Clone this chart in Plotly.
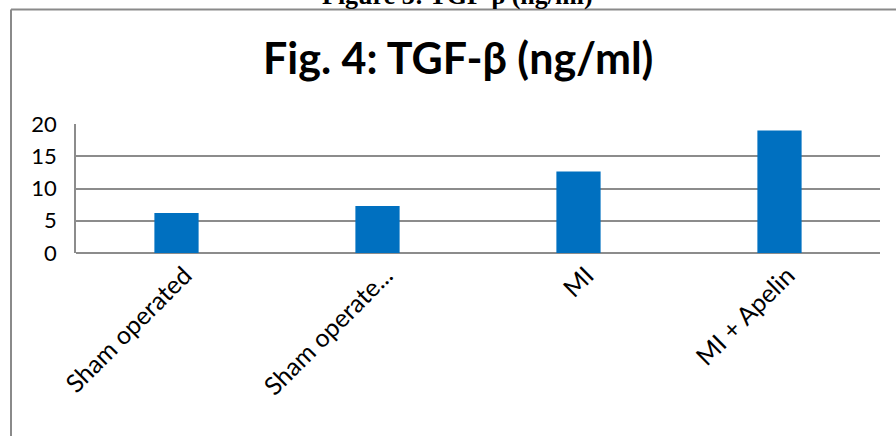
import plotly.graph_objects as go

categories = ["Sham operated", "Sham operate...", "MI", "MI + Apelin"]
values = [6.2, 7.3, 12.65, 19.0]
y_ticks = [0, 5, 10, 15, 20]

W, H = 896, 436
L, R, T, B = 76, 16, 124, 183
pw = W - L - R
ph = H - T - B

def px_to_paper_x(px):
    return (px - L) / pw

def py_to_paper_y(py):
    return (H - B - py) / ph

fig = go.Figure()
fig.add_trace(go.Bar(
    x=categories, y=values,
    marker=dict(color="#0070C0", line=dict(width=0)),
    width=0.22,
))

fig.update_layout(
    width=W, height=H,
    margin=dict(l=L, r=R, t=T, b=B),
    paper_bgcolor="white", plot_bgcolor="white",
    showlegend=False,
    font=dict(family="Lato", color="black"),
    xaxis=dict(
        tickangle=-45, tickfont=dict(size=25, family="Lato"),
        showgrid=False, showline=False, ticks="",
        range=[-0.5, 3.5], ticklabelshift=8, ticklabelstandoff=2,
    ),
    yaxis=dict(
        range=[0, 20], tickvals=y_ticks,
        tickfont=dict(size=22, family="Lato"),
        showgrid=True, gridcolor="#8c8c8c", gridwidth=1.5,
        zeroline=True, zerolinecolor="#8c8c8c", zerolinewidth=1.5,
        showline=True, linecolor="#8c8c8c", linewidth=1.5,
        ticks="", ticklabelstandoff=13,
    ),
    shapes=[
        dict(type="line", xref="paper", yref="paper",
             x0=px_to_paper_x(11), x1=px_to_paper_x(11),
             y0=py_to_paper_y(9.5), y1=py_to_paper_y(440),
             line=dict(color="#8a8a8a", width=2)),
        dict(type="line", xref="paper", yref="paper",
             x0=px_to_paper_x(11), x1=px_to_paper_x(900),
             y0=py_to_paper_y(9.5), y1=py_to_paper_y(9.5),
             line=dict(color="#8a8a8a", width=2)),
    ],
    annotations=[
        dict(text="<b>Fig. 4: TGF-β (ng/ml)</b>", xref="paper", yref="paper",
             x=px_to_paper_x(458), y=py_to_paper_y(57),
             xanchor="center", yanchor="middle", showarrow=False,
             font=dict(size=43, family="Lato", color="black")),
        dict(text="<b>Figure 3: TGF-β (ng/ml)</b>", xref="paper", yref="paper",
             x=px_to_paper_x(457), y=py_to_paper_y(-5),
             xanchor="center", yanchor="middle", showarrow=False,
             font=dict(size=26, family="Liberation Serif", color="black")),
    ],
)

fig.write_html("out.html", config={"displayModeBar": False},
               post_script="document.body.style.margin='0px';")
